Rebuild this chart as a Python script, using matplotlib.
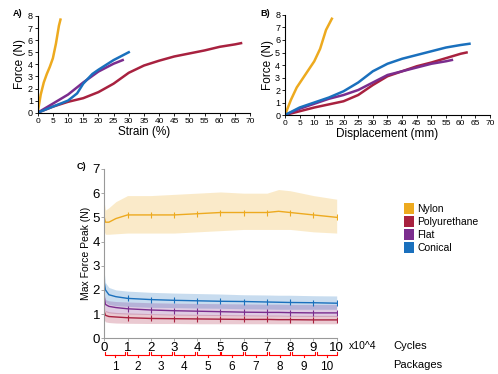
import numpy as np
import matplotlib
import matplotlib.pyplot as plt
import matplotlib.transforms as mtransforms
from matplotlib.patches import Patch

matplotlib.use('Agg')
plt.rcParams['font.family'] = ['Liberation Sans', 'DejaVu Sans']

# colours
c_nylon = '#EDAA1F'
c_pu = '#A8213F'
c_flat = '#7B2D8E'
c_con = '#1A70BD'

# panel A: force vs strain (%)
a_nylon_x = [0, 1, 2, 3, 4, 5, 6, 7, 7.5]
a_nylon_y = [0, 1.5, 2.5, 3.2, 3.8, 4.5, 5.7, 7.2, 7.7]
a_pu_x = [0, 5, 10, 15, 20, 25, 30, 35, 40, 45, 50, 55, 60, 65, 67]
a_pu_y = [0, 0.5, 0.9, 1.2, 1.7, 2.4, 3.3, 3.9, 4.3, 4.65, 4.9, 5.15, 5.45, 5.65, 5.75]
a_flat_x = [0, 5, 10, 15, 20, 25, 28]
a_flat_y = [0, 0.75, 1.5, 2.5, 3.4, 4.05, 4.35]
a_con_x = [0, 5, 10, 13, 15, 18, 20, 25, 30]
a_con_y = [0, 0.5, 1.0, 1.6, 2.4, 3.2, 3.55, 4.35, 5.0]

# panel B: force vs displacement (mm)
b_nylon_x = [0, 2, 4, 6, 8, 10, 12, 14, 16]
b_nylon_y = [0, 1.2, 2.2, 2.9, 3.6, 4.3, 5.3, 6.8, 7.7]
b_pu_x = [0, 10, 20, 25, 30, 35, 40, 45, 50, 55, 60, 62]
b_pu_y = [0, 0.6, 1.1, 1.6, 2.4, 3.1, 3.5, 3.9, 4.2, 4.55, 4.9, 5.0]
b_flat_x = [0, 5, 10, 15, 20, 25, 30, 35, 40, 45, 50, 55, 57]
b_flat_y = [0, 0.5, 0.9, 1.3, 1.6, 2.0, 2.6, 3.2, 3.5, 3.8, 4.1, 4.3, 4.4]
b_con_x = [0, 5, 10, 15, 20, 25, 30, 35, 40, 45, 50, 55, 60, 63]
b_con_y = [0, 0.6, 1.0, 1.4, 1.9, 2.6, 3.5, 4.1, 4.5, 4.8, 5.1, 5.4, 5.6, 5.7]

# panel C: max force peak vs cycles (x10^4), mean and band
c_x = [0, 0.05, 0.2, 0.5, 1, 2, 3, 4, 5, 6, 7, 7.5, 8, 9, 10]
c_nylon_m = [5.0, 4.8, 4.8, 4.95, 5.1, 5.1, 5.1, 5.15, 5.2, 5.2, 5.2, 5.25, 5.2, 5.1, 5.0]
c_nylon_hi = [5.6, 5.3, 5.4, 5.65, 5.9, 5.9, 5.95, 6.0, 6.05, 6.0, 6.0, 6.15, 6.1, 5.9, 5.75]
c_nylon_lo = [4.4, 4.3, 4.3, 4.32, 4.35, 4.35, 4.35, 4.4, 4.45, 4.5, 4.5, 4.5, 4.5, 4.4, 4.35]
c_con_m = [2.3, 2.0, 1.8, 1.72, 1.65, 1.6, 1.57, 1.55, 1.53, 1.52, 1.5, 1.49, 1.48, 1.47, 1.45]
c_con_hi = [2.7, 2.3, 2.1, 2.0, 1.95, 1.9, 1.87, 1.85, 1.83, 1.8, 1.79, 1.78, 1.78, 1.76, 1.75]
c_con_lo = [1.7, 1.5, 1.4, 1.35, 1.32, 1.28, 1.27, 1.25, 1.24, 1.22, 1.21, 1.2, 1.2, 1.2, 1.2]
c_flat_m = [1.7, 1.4, 1.32, 1.27, 1.22, 1.17, 1.14, 1.12, 1.1, 1.08, 1.07, 1.07, 1.06, 1.05, 1.05]
c_flat_hi = [1.85, 1.6, 1.55, 1.52, 1.5, 1.47, 1.45, 1.44, 1.43, 1.42, 1.41, 1.41, 1.4, 1.4, 1.4]
c_flat_lo = [1.3, 1.1, 1.05, 1.02, 1.0, 0.98, 0.96, 0.95, 0.94, 0.93, 0.92, 0.92, 0.91, 0.9, 0.9]
c_pu_m = [1.1, 0.95, 0.9, 0.88, 0.85, 0.82, 0.81, 0.8, 0.79, 0.78, 0.78, 0.77, 0.77, 0.76, 0.76]
c_pu_hi = [1.3, 1.15, 1.1, 1.07, 1.05, 1.02, 1.0, 0.99, 0.98, 0.97, 0.96, 0.96, 0.95, 0.95, 0.95]
c_pu_lo = [0.75, 0.68, 0.65, 0.63, 0.62, 0.61, 0.61, 0.6, 0.6, 0.6, 0.6, 0.6, 0.6, 0.6, 0.6]

legend_labels = ['Nylon', 'Polyurethane', 'Flat', 'Conical']
package_edges = [0, 0.95, 1.95, 2.95, 3.95, 5.0, 6.0, 7.05, 8.05, 9.1, 10.05]
package_labels = ['1', '2', '3', '4', '5', '6', '7', '8', '9', '10']

fig = plt.figure(figsize=(4.98, 3.74), dpi=100)


def style_small(ax, xlabel, ylabel):
    ax.spines['top'].set_visible(False)
    ax.spines['right'].set_visible(False)
    ax.set_xlim(0, 70)
    ax.set_ylim(0, 8)
    ax.set_xticks(np.arange(0, 71, 5))
    ax.set_yticks(np.arange(0, 9, 1))
    ax.tick_params(labelsize=6, length=2, width=0.6, pad=1.5)
    ax.tick_params(axis='y', labelsize=6.5)
    for s in ('left', 'bottom'):
        ax.spines[s].set_linewidth(0.8)
    ax.set_xlabel(xlabel, fontsize=8.5, labelpad=1)
    ax.set_ylabel(ylabel, fontsize=8.5, labelpad=1)


axA = fig.add_axes([0.0757, 0.6987, 0.4266, 0.2586])
axA.plot(a_nylon_x, a_nylon_y, color=c_nylon, lw=1.8)
axA.plot(a_pu_x, a_pu_y, color=c_pu, lw=1.8)
axA.plot(a_flat_x, a_flat_y, color=c_flat, lw=1.8)
axA.plot(a_con_x, a_con_y, color=c_con, lw=1.8)
style_small(axA, 'Strain (%)', 'Force (N)')
fig.text(0.025, 0.965, 'A)', fontsize=6.5, fontweight='bold', va='center')

axB = fig.add_axes([0.5723, 0.6925, 0.4116, 0.2674])
axB.plot(b_nylon_x, b_nylon_y, color=c_nylon, lw=1.8)
axB.plot(b_pu_x, b_pu_y, color=c_pu, lw=1.8)
axB.plot(b_flat_x, b_flat_y, color=c_flat, lw=1.8)
axB.plot(b_con_x, b_con_y, color=c_con, lw=1.8)
style_small(axB, 'Displacement (mm)', 'Force (N)')
fig.text(0.522, 0.965, 'B)', fontsize=6.5, fontweight='bold', va='center')

axC = fig.add_axes([0.2094, 0.0955, 0.4667, 0.4527])
series = [(c_nylon_m, c_nylon_lo, c_nylon_hi, c_nylon),
          (c_con_m, c_con_lo, c_con_hi, c_con),
          (c_flat_m, c_flat_lo, c_flat_hi, c_flat),
          (c_pu_m, c_pu_lo, c_pu_hi, c_pu)]
for m, lo, hi, col in series:
    axC.fill_between(c_x, lo, hi, color=col, alpha=0.24, lw=0)
    axC.plot(c_x, m, color=col, lw=1.0)
    xi = np.arange(1, 11)
    axC.plot(xi, np.interp(xi, c_x, m), ls='none', marker='|',
             ms=4, mew=0.8, color=col)
axC.set_xlim(0, 10)
axC.set_ylim(0, 7)
axC.set_xticks(np.arange(0, 11, 1))
axC.set_yticks(np.arange(0, 8, 1))
axC.spines['top'].set_visible(False)
axC.spines['right'].set_visible(False)
for s in ('left', 'bottom'):
    axC.spines[s].set_color('#999999')
    axC.spines[s].set_linewidth(0.8)
axC.tick_params(labelsize=9.5, length=2, width=0.6, color='#999999', pad=1)
axC.set_ylabel('Max Force Peak (N)', fontsize=7.5, labelpad=1)
fig.text(0.153, 0.555, 'C)', fontsize=6.5, fontweight='bold', va='center')

# package brackets under the cycles axis
trans = mtransforms.blended_transform_factory(axC.transData, axC.transAxes)
yb = -0.099
for i in range(len(package_labels)):
    x0 = package_edges[i] + 0.04
    x1 = package_edges[i + 1] - 0.04
    xm = (x0 + x1) / 2
    axC.plot([x0, x0, x1, x1], [yb + 0.016, yb, yb, yb + 0.016],
             color='red', lw=0.8, transform=trans, clip_on=False)
    axC.plot([xm, xm], [yb, yb - 0.014], color='red', lw=0.8,
             transform=trans, clip_on=False)
    axC.text(xm, -0.167, package_labels[i], transform=trans,
             ha='center', va='center', fontsize=8.5)

fig.text(0.700, 0.075, 'x10^4', fontsize=7.5, va='center')
fig.text(0.789, 0.075, 'Cycles', fontsize=8, va='center')
fig.text(0.789, 0.024, 'Packages', fontsize=8, va='center')

handles = [Patch(facecolor=c, edgecolor='none') for c in [c_nylon, c_pu, c_flat, c_con]]
fig.legend(handles, legend_labels, loc='upper left', bbox_to_anchor=(0.8, 0.471),
           frameon=False, fontsize=7.5, handlelength=1.0, handleheight=1.3,
           handletextpad=0.3, labelspacing=0.15, borderpad=0)

fig.savefig('out.png', dpi=100)
